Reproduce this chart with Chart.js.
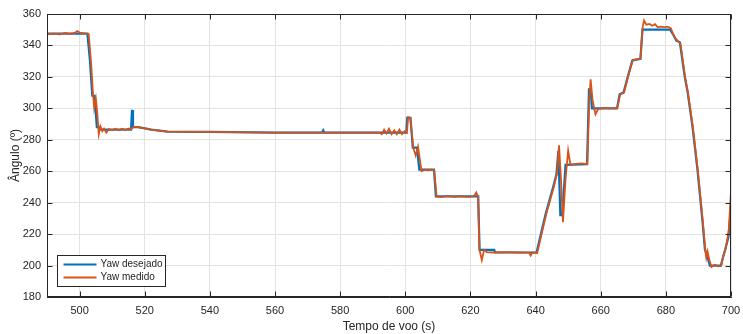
<!DOCTYPE html>
<html>
<head>
<meta charset="utf-8">
<script src="https://cdn.jsdelivr.net/npm/chart.js@4"></script>
<style>
  html, body { margin: 0; padding: 0; background: #fff; }
  #wrap { width: 743px; height: 334px; }
</style>
</head>
<body>
<div id="wrap"><canvas id="yawChart" width="743" height="334"></canvas></div>
<script>
// Yaw desejado x Yaw medido

const xTicks = [500, 520, 540, 560, 580, 600, 620, 640, 660, 680, 700];
const yTicks = [180, 200, 220, 240, 260, 280, 300, 320, 340, 360];

const tDesejado = [490, 502.4, 503.2, 503.9, 504.6, 505.3, 506.2, 506.6, 515.8, 516.1, 516.4, 518, 522, 527, 540, 560,
    574.5, 574.8, 575.1, 600.3, 600.6, 601.6, 602.3, 603.6, 604.3, 608.8, 609.4, 622.4, 622.8, 627.3, 627.6, 640.3,
    643.1, 645.4, 646.4, 647.0, 647.6, 648.2, 649.2, 655.8, 656.4, 656.9, 657.3, 665.0, 665.8, 667.0, 668.3, 669.7,
    672.2, 672.8, 681.3, 682.5, 683.2, 684.3, 685.8, 686.7, 688.2, 689.7, 691.3, 692.0, 692.6, 693.5, 696.9, 697.5,
    698.2, 699.2, 699.7, 700];
const yawDesejado = [347.5, 347.5, 330, 308, 308, 288, 288, 286.5, 286.5, 299, 288, 288, 286.5, 285.2, 285, 284.6,
    284.6, 286, 284.6, 284.6, 294, 294, 275, 275, 261, 261, 244, 244, 210, 210, 208.3, 208.3,
    233, 250, 258, 273, 232, 232, 264, 264.5, 312, 312, 300, 300, 309, 310, 320, 330.5,
    331.5, 350, 350, 346, 343, 342, 320, 310, 288, 261, 227, 210, 207, 200, 200, 205,
    210, 218, 230, 240];

const tMedido = [490, 492, 494, 495.5, 497, 498.5, 499.3, 500, 501, 502, 502.8, 503.5, 504.1, 504.5, 505, 505.4,
    505.9, 506.4, 507.0, 507.5, 508.2, 509, 510, 511, 512, 513, 514, 515, 516, 516.6, 518, 522, 527, 540, 560,
    592, 592.8, 593.5, 594.2, 595, 595.8, 596.6, 597.4, 598.2, 599, 599.8, 600.5, 600.9, 601.5, 602.5, 603.2,
    603.9, 605, 606, 607, 608, 608.9, 609.6, 611, 613, 615, 617, 619, 621, 621.8, 622.3, 622.8, 623.5, 624.2,
    625, 627, 630, 635, 638, 638.5, 639, 640.5, 643.3, 645.6, 646.6, 647.2, 647.8, 648.4, 649.2, 650.0, 650.7,
    652, 654, 655.9, 656.5, 656.9, 657.5, 658.4, 659.2, 661, 663, 665.1, 666, 667.2, 668.5, 669.9, 672.2,
    672.9, 673.3, 674, 675, 675.8, 676.7, 677.5, 678.5, 679.5, 680.5, 681.5, 682.7, 683.6, 684.5, 685.9, 686.8,
    688.3, 689.8, 691.4, 692.1, 692.4, 692.8, 693.3, 694, 695, 696, 697, 697.6, 698.3, 699.3, 699.8, 700];
const yawMedido = [347, 347.5, 347, 348, 347.3, 348, 349.2, 348.2, 347.8, 347.5, 347.3, 330, 310, 300, 306, 298,
    283.5, 288.5, 285.5, 287, 284.5, 286.8, 286, 287, 286, 287, 286.3, 287, 287, 288.3, 288, 286.5, 285.2, 285, 284.6,
    284.6, 283.5, 286.5, 284, 287, 283.5, 286, 283.5, 286.5, 283.5, 285.5, 284.5, 294.5, 294, 274.5, 270,
    275.5, 260, 261, 260.5, 261, 260.5, 244, 243.5, 244.3, 243.7, 244.2, 243.7, 244, 246.5, 244, 210, 203.5, 210,
    208.5, 208.3, 208.5, 208.3, 208.2, 206.3, 208.3, 208, 233, 250, 259, 276.5, 255, 227.5, 255, 273, 264,
    264.5, 265, 264.5, 305, 318.5, 305, 296.2, 299.5, 300.3, 300, 300.2, 309, 310.2, 321, 330.8, 331.5,
    352, 355.8, 353.2, 353.7, 352.5, 353.5, 351.5, 352, 351.7, 352, 351, 345, 343, 341, 320, 310,
    288, 261, 227, 210, 205, 209, 204, 199, 200.5, 199.5, 200, 206, 210, 222, 240, 248];

const serieNomes = ['Yaw desejado', 'Yaw medido'];
const azul = '#0072BD';
const laranja = '#D95319';
const eixoCor = '#262626';
const fonte = '"Liberation Sans", Arial, sans-serif';

function pares(ts, ys) {
    return ts.map((t, i) => ({ x: t, y: ys[i] }));
}

// caixa fechada com ticks para dentro + legenda no canto inferior esquerdo
const moldura = {
    id: 'moldura',
    afterDraw(chart) {
        const { ctx, chartArea: a, scales: { x, y } } = chart;
        const L = Math.round(a.left) + 0.5, R = Math.round(a.right) - 0.5;
        const T = Math.round(a.top) + 0.5, B = Math.round(a.bottom) - 0.5;
        ctx.save();
        ctx.strokeStyle = eixoCor;
        ctx.lineWidth = 1;
        ctx.strokeRect(L, T, R - L, B - T);
        ctx.beginPath();
        xTicks.forEach(v => {
            const px = Math.round(x.getPixelForValue(v)) + 0.5;
            ctx.moveTo(px, B); ctx.lineTo(px, B - 5);
            ctx.moveTo(px, T); ctx.lineTo(px, T + 5);
        });
        yTicks.forEach(v => {
            const py = Math.round(y.getPixelForValue(v)) + 0.5;
            ctx.moveTo(L, py); ctx.lineTo(L + 5, py);
            ctx.moveTo(R, py); ctx.lineTo(R - 5, py);
        });
        ctx.stroke();

        // legenda
        const bx = L + 10, by = B - 41, bw = 108, bh = 31;
        ctx.fillStyle = '#fff';
        ctx.fillRect(bx, by, bw, bh);
        ctx.strokeRect(bx, by, bw, bh);
        ctx.font = '10px ' + fonte;
        ctx.textBaseline = 'middle';
        [azul, laranja].forEach((c, i) => {
            const ly = by + 9 + i * 13;
            ctx.strokeStyle = c;
            ctx.lineWidth = 2;
            ctx.beginPath();
            ctx.moveTo(bx + 6, ly); ctx.lineTo(bx + 39, ly);
            ctx.stroke();
            ctx.fillStyle = eixoCor;
            ctx.fillText(serieNomes[i], bx + 43, ly);
        });
        ctx.restore();
    }
};

new Chart(document.getElementById('yawChart'), {
    type: 'line',
    data: {
        datasets: [{
            label: serieNomes[0],
            data: pares(tDesejado, yawDesejado),
            borderColor: azul,
            borderWidth: 2.2,
            pointRadius: 0,
            tension: 0,
            order: 1
        }, {
            label: serieNomes[1],
            data: pares(tMedido, yawMedido),
            borderColor: laranja,
            borderWidth: 1.8,
            pointRadius: 0,
            tension: 0,
            order: 0
        }]
    },
    plugins: [moldura],
    options: {
        responsive: false,
        animation: false,
        layout: { padding: { left: 2, right: 12, top: 14, bottom: 0 } },
        plugins: {
            legend: { display: false },
            tooltip: { enabled: false }
        },
        scales: {
            x: {
                type: 'linear',
                min: 490,
                max: 700,
                afterBuildTicks: s => { s.ticks = xTicks.map(v => ({ value: v })); },
                afterFit: s => { s.height = 37; s.paddingRight = 0; s.paddingLeft = 0; },
                grid: { color: '#e3e3e3', drawTicks: false },
                border: { color: eixoCor },
                ticks: {
                    padding: 7,
                    color: eixoCor,
                    font: { family: fonte, size: 11 }
                },
                title: {
                    display: true,
                    text: 'Tempo de voo (s)',
                    color: eixoCor,
                    padding: { top: 2, bottom: 0 },
                    font: { family: fonte, size: 12 }
                }
            },
            y: {
                min: 180,
                max: 360,
                afterBuildTicks: s => { s.ticks = yTicks.map(v => ({ value: v })); },
                afterFit: s => { s.width = 45; },
                grid: { color: '#e3e3e3', drawTicks: false },
                border: { color: eixoCor },
                ticks: {
                    padding: 6,
                    color: eixoCor,
                    font: { family: fonte, size: 11 }
                },
                title: {
                    display: true,
                    text: 'Ângulo (º)',
                    color: eixoCor,
                    padding: { top: 6, bottom: 0 },
                    font: { family: fonte, size: 12 }
                }
            }
        }
    }
});
</script>
</body>
</html>
